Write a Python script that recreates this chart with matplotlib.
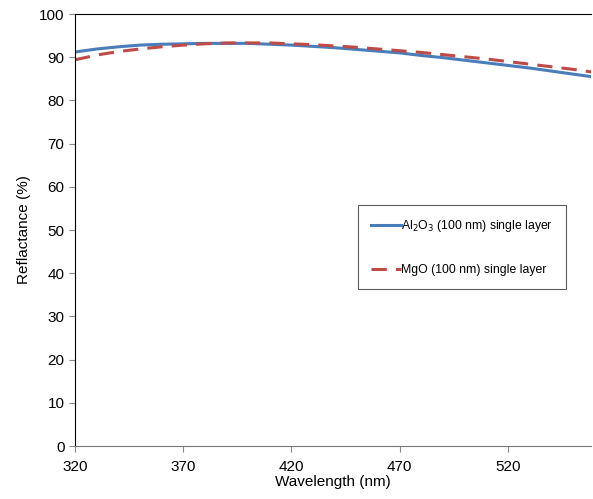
import matplotlib.pyplot as plt

plt.rcParams['font.family'] = ['Liberation Sans', 'DejaVu Sans']

wavelength = [320, 330, 340, 350, 360, 370, 380, 390, 400, 410, 420, 430, 440,
              450, 460, 470, 480, 490, 500, 510, 520, 530, 540, 550, 560]
al2o3 = [91.2, 91.9, 92.4, 92.8, 93.0, 93.1, 93.2, 93.2, 93.2, 93.0, 92.8, 92.5, 92.2,
         91.8, 91.4, 91.0, 90.4, 89.9, 89.3, 88.7, 88.1, 87.5, 86.8, 86.1, 85.4]
mgo = [89.4, 90.5, 91.3, 91.9, 92.4, 92.8, 93.1, 93.3, 93.3, 93.3, 93.1, 92.9, 92.6,
       92.3, 91.9, 91.5, 91.1, 90.6, 90.1, 89.6, 89.0, 88.4, 87.8, 87.2, 86.5]

fig = plt.figure(figsize=(5.93, 4.99), dpi=100)
ax = fig.add_axes([75/593, 53/499, 516/593, 432/499])

ax.plot(wavelength, al2o3, color='#4a7ebb', lw=2.2, label='Al$_2$O$_3$ (100 nm) single layer')
ax.plot(wavelength, mgo, color='#be4b48', lw=2.2, ls=(0, (5, 3)), label='MgO (100 nm) single layer')

ax.set_xlim(320, 558.5)
ax.set_ylim(0, 100)
ax.set_xticks([320, 370, 420, 470, 520])
ax.set_yticks(range(0, 101, 10))
ax.tick_params(direction='out', length=4, color='#888888', labelsize=11)
ax.tick_params(axis='x', pad=6)
ax.spines['right'].set_visible(False)
ax.spines['left'].set_color('black')
ax.spines['top'].set_color('black')
ax.spines['bottom'].set_color('#777777')
ax.set_xlabel('Wavelength (nm)', fontsize=11, labelpad=1)
ax.set_ylabel('Reflactance (%)', fontsize=11, labelpad=6)

leg = ax.legend(loc='upper left', bbox_to_anchor=(283/516, (446-205)/432), fontsize=8.8,
                frameon=True, fancybox=False, edgecolor='#333333', handlelength=2.4,
                handletextpad=0, labelspacing=2.4, borderpad=1.1, borderaxespad=0)
leg.get_frame().set_linewidth(0.8)

fig.savefig('out.png', dpi=100)
